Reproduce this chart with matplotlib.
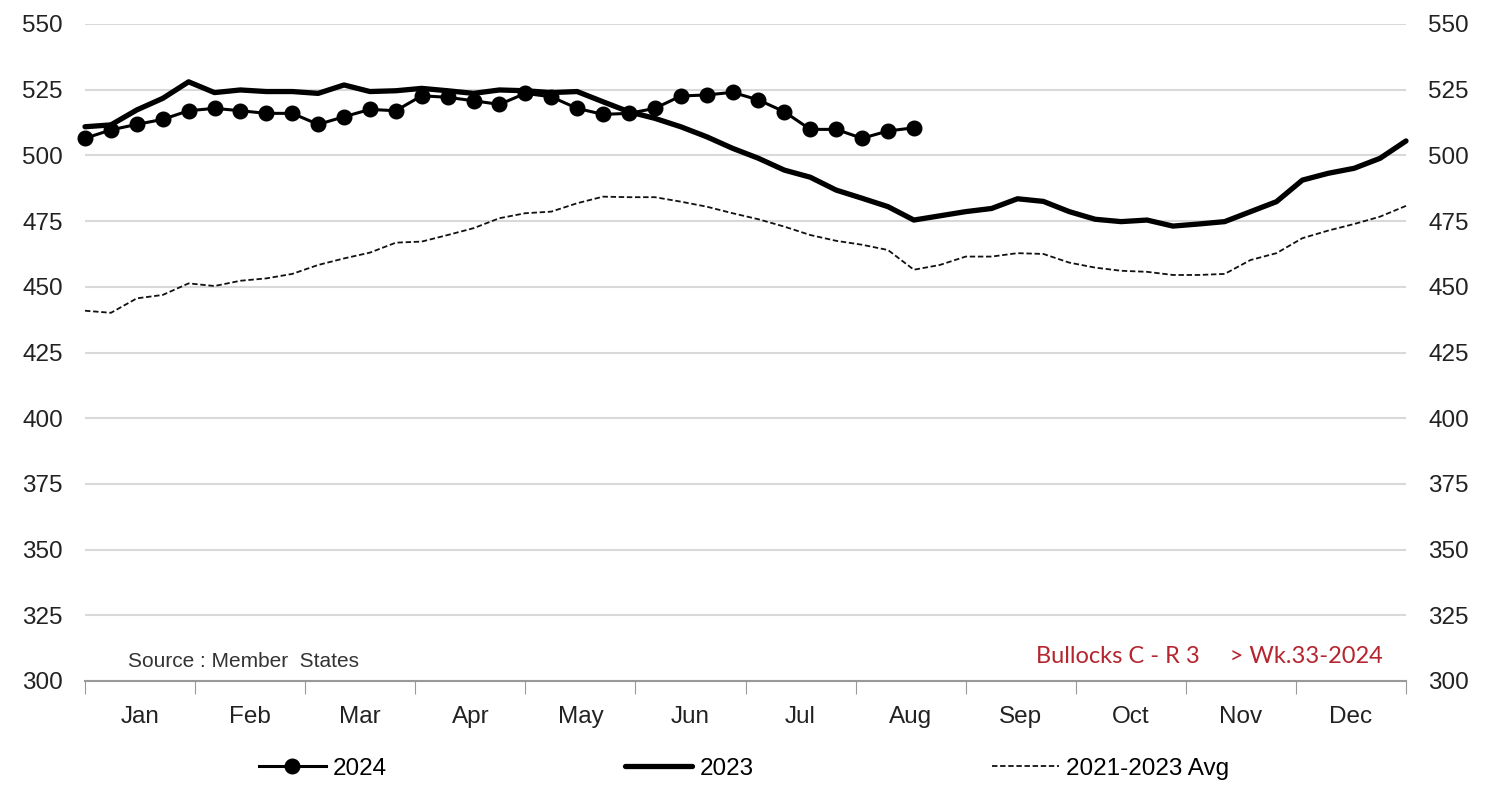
import matplotlib
matplotlib.use("Agg")
import matplotlib.pyplot as plt
import numpy as np

plt.rcParams['font.family'] = ['Liberation Sans', 'DejaVu Sans']

months = ["Jan", "Feb", "Mar", "Apr", "May", "Jun", "Jul", "Aug", "Sep", "Oct", "Nov", "Dec"]

# weekly prices
p2024 = [506.5, 509.7, 511.8, 513.7, 517.0, 517.9, 517.0, 516.0, 516.0, 511.8,
         514.7, 517.5, 517.0, 522.7, 522.1, 520.8, 519.4, 523.6, 522.3, 517.9,
         515.6, 516.0, 517.9, 522.6, 523.0, 524.0, 521.1, 516.6, 509.9, 509.9,
         506.5, 509.3, 510.5]

p2023 = [510.9, 511.6, 517.3, 521.7, 528.0, 523.9, 524.9, 524.3, 524.3, 523.6,
         526.8, 524.3, 524.6, 525.5, 524.6, 523.6, 524.9, 524.6, 523.9, 524.3,
         520.4, 516.6, 514.1, 510.9, 507.1, 502.7, 498.9, 494.4, 491.7, 486.8,
         483.7, 480.5, 475.4, 477.0, 478.6, 479.8, 483.5, 482.5, 478.6, 475.7,
         474.8, 475.4, 473.1, 473.9, 474.8, 478.6, 482.4, 490.6, 493.2, 495.1,
         498.9, 505.5]

avg = [440.9, 440.1, 445.6, 446.9, 451.3, 450.3, 452.3, 453.2, 454.9, 458.3,
       460.8, 463.0, 466.8, 467.2, 469.7, 472.3, 476.1, 478.0, 478.6, 481.8,
       484.3, 484.1, 484.1, 482.4, 480.5, 478.0, 475.7, 472.9, 469.7, 467.5,
       466.0, 464.0, 456.5, 458.3, 461.5, 461.5, 462.8, 462.5, 459.2, 457.3,
       456.1, 455.7, 454.5, 454.5, 454.9, 460.2, 462.8, 468.5, 471.4, 473.9,
       476.7, 480.8]

weeks24 = np.arange(1, len(p2024) + 1)
weeks = np.arange(1, len(p2023) + 1)

fig = plt.figure(figsize=(14.9, 7.94), dpi=100)
ax = fig.add_axes([85 / 1490, 1 - 681 / 794, (1406 - 85) / 1490, (681 - 24) / 794])

ax.plot(weeks, avg, color="#111111", lw=1.3, ls=(0, (3, 1.5)), label="2021-2023 Avg", clip_on=False)
ax.plot(weeks, p2023, color="black", lw=3.8, label="2023", clip_on=False,
        solid_capstyle="round", solid_joinstyle="round")
ax.plot(weeks24, p2024, color="black", lw=2.2, marker="o", ms=10.5, label="2024", clip_on=False,
        solid_joinstyle="round")

ax.set_ylim(300, 550)
ax.set_xlim(1, 52)
ax.set_yticks(np.arange(300, 551, 25))
ax.grid(axis="y", color="#d9d9d9", lw=1.5)
ax.set_axisbelow(True)

bounds = np.linspace(1, 52, 13)
ax.set_xticks(bounds)
ax.set_xticklabels([])
ax.set_xticks((bounds[:-1] + bounds[1:]) / 2, minor=True)
ax.set_xticklabels(months, minor=True)
ax.tick_params(axis="x", which="major", length=9, color="#999999", direction="out")
ax.tick_params(axis="x", which="minor", length=0, pad=18, labelsize=17.5, labelcolor="#222222")
ax.tick_params(axis="y", length=0, labelleft=True, labelright=True, pad=16,
               labelsize=17.5, labelcolor="#222222")

for s in ["top", "right", "left"]:
    ax.spines[s].set_visible(False)
ax.spines["bottom"].set_color("#999999")
ax.spines["bottom"].set_linewidth(1.5)

ax.text(2.66, 307.6, "Source : Member  States", fontsize=15, color="#333333", va="center")
ax.text(51.1, 309.5, "Bullocks C - R 3     > Wk.33-2024", fontsize=17, color="#b5252f",
        ha="right", va="center", family=["Lato", "DejaVu Sans"])

h, l = ax.get_legend_handles_labels()
order = [2, 1, 0]
fig.legend([h[i] for i in order], [l[i] for i in order], loc="center left",
           bbox_to_anchor=(0.159, 0.032), ncol=3, frameon=False, fontsize=17.5,
           handlelength=2.75, handletextpad=0.3, columnspacing=9.8)

fig.savefig("out.png", dpi=100)
